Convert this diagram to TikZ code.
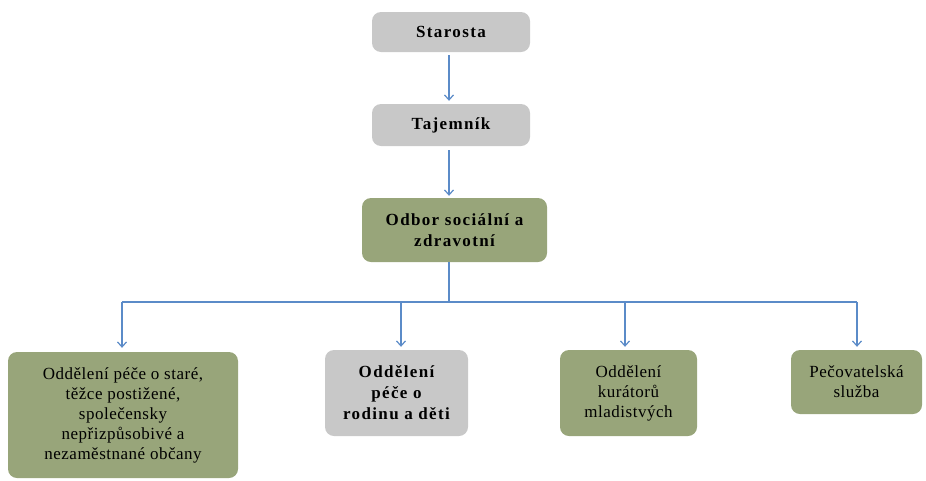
\documentclass[tikz,border=0pt]{standalone}
\usepackage{fontspec}
\setmainfont{Liberation Serif}
\newfontfamily\spacedbold[LetterSpace=8]{Liberation Serif}
\newfontfamily\spacedreg[LetterSpace=3]{Liberation Serif}
\usetikzlibrary{arrows.meta}
\definecolor{boxgray}{HTML}{C8C8C8}
\definecolor{boxgreen}{HTML}{98A57A}
\definecolor{linkblue}{HTML}{5B8BC8}
\begin{document}
\begin{tikzpicture}[x=1pt,y=-1pt,
  box/.style={rounded corners=9pt, inner sep=0pt, align=center, text=black},
  graybox/.style={box, fill=boxgray},
  greenbox/.style={box, fill=boxgreen},
  boldtext/.style={font=\spacedbold\bfseries\fontsize{17}{21}\selectfont},
  regtext/.style={font=\spacedreg\fontsize{17}{20}\selectfont},
  link/.style={draw=linkblue, line width=1.2pt, -{Straight Barb[length=5pt,width=9pt]}},
  plain/.style={draw=linkblue, line width=1.2pt}
]
\useasboundingbox (0,0) rectangle (926,480);
% top nodes
\node[graybox, boldtext, minimum width=158pt, minimum height=40pt] (star) at (451,32) {Starosta};
\node[graybox, boldtext, minimum width=158pt, minimum height=42pt] (taj) at (451,125) {Tajemník};
\node[greenbox, boldtext, minimum width=185pt, minimum height=64pt] (odbor) at (454.5,230) {Odbor sociální a\\ zdravotní};
% bottom nodes
\node[greenbox, regtext, minimum width=230pt, minimum height=126pt] (b1) at (123,415) {Oddělení péče o staré,\\ těžce postižené,\\ společensky\\ nepřizpůsobivé a\\ nezaměstnané občany};
\node[graybox, boldtext, minimum width=143pt, minimum height=86pt] (b2) at (396.5,393) {Oddělení\\ péče o\\ rodinu a děti};
\node[greenbox, regtext, minimum width=137pt, minimum height=86pt] (b3) at (628.5,393) {Oddělení\\ kurátorů\\ mladistvých};
\node[greenbox, regtext, minimum width=131pt, minimum height=64pt] (b4) at (856.5,382) {Pečovatelská\\ služba};
% connectors
\coordinate (c1) at (449,0);
\draw[link] ([yshift=-3pt]star.south -| c1) -- ([yshift=3pt]taj.north -| c1);
\draw[link] ([yshift=-4pt]taj.south -| c1) -- ([yshift=2pt]odbor.north -| c1);
\coordinate (j) at (449,302);
\draw[plain] (odbor.south -| j) -- (j);
\coordinate (hl) at (122,302);
\coordinate (h2) at (401,302);
\coordinate (h3) at (625,302);
\coordinate (hr) at (857,302);
\draw[plain] (hl) -- (hr);
\draw[link] (hl) -- ([yshift=4pt]hl |- b1.north);
\draw[link] (h2) -- ([yshift=3pt]h2 |- b2.north);
\draw[link] (h3) -- ([yshift=3pt]h3 |- b3.north);
\draw[link] (hr) -- ([yshift=3pt]hr |- b4.north);
\end{tikzpicture}
\end{document}
